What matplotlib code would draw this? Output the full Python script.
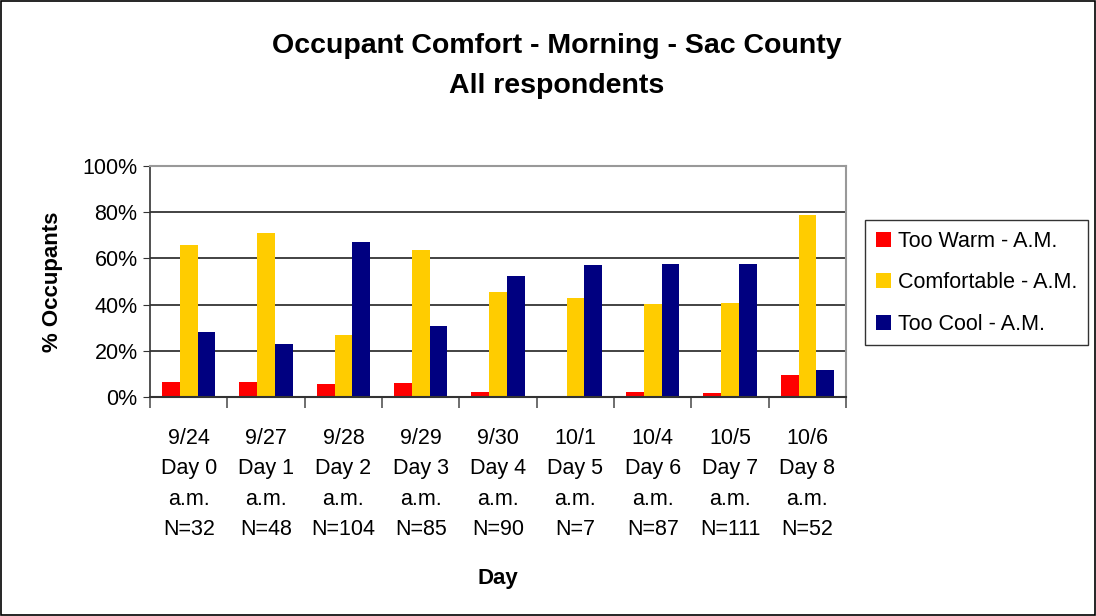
import numpy as np
import matplotlib.pyplot as plt
from matplotlib.patches import Rectangle

plt.rcParams['font.family'] = ['Liberation Sans', 'DejaVu Sans']

# Datos (% de ocupantes)
dates = ['9/24', '9/27', '9/28', '9/29', '9/30', '10/1', '10/4', '10/5', '10/6']
days = ['Day 0', 'Day 1', 'Day 2', 'Day 3', 'Day 4', 'Day 5', 'Day 6', 'Day 7', 'Day 8']
n_resp = [32, 48, 104, 85, 90, 7, 87, 111, 52]
too_warm = [6.3, 6.3, 5.8, 5.9, 2.2, 0.0, 2.3, 1.8, 9.6]
comfortable = [65.6, 70.8, 26.9, 63.5, 45.6, 42.9, 40.2, 40.5, 78.8]
too_cool = [28.1, 22.9, 67.3, 30.6, 52.2, 57.1, 57.5, 57.7, 11.5]

labels = [f"{d}\n{dy}\na.m.\nN={n}" for d, dy, n in zip(dates, days, n_resp)]

fig = plt.figure(figsize=(10.96, 6.16), dpi=100)
ax = fig.add_axes([0.1369, 0.3555, 0.6351, 0.375])

x = np.arange(len(dates))
w = 0.23
ax.bar(x - w, too_warm, w, color='#FF0000', label='Too Warm - A.M.')
ax.bar(x, comfortable, w, color='#FFCC00', label='Comfortable - A.M.')
ax.bar(x + w, too_cool, w, color='#000080', label='Too Cool - A.M.')

ax.set_xlim(-0.5, len(dates) - 0.5)
ax.set_ylim(0, 100)
ax.set_yticks(np.arange(0, 101, 20))
ax.set_yticklabels([f"{v}%" for v in range(0, 101, 20)], fontsize=15.5)
ax.yaxis.grid(True, color='#222222', linewidth=1.2)
ax.set_axisbelow(True)

# ticks entre categorias
ax.set_xticks(np.arange(-0.5, len(dates), 1))
ax.set_xticklabels([])
ax.set_xticks(x, minor=True)
ax.set_xticklabels(labels, minor=True, fontsize=15.5, linespacing=1.6)
ax.tick_params(axis='x', which='major', length=8, color='#555555', width=1.2)
ax.tick_params(axis='x', which='minor', length=0, pad=22)
ax.tick_params(axis='y', length=5, color='#333333', pad=4)

for side in ['top', 'right']:
    ax.spines[side].set_color('#999999')
    ax.spines[side].set_linewidth(1.5)
ax.spines['left'].set_color('#333333')
ax.spines['bottom'].set_color('#333333')
ax.spines['left'].set_linewidth(1.2)
ax.spines['bottom'].set_linewidth(1.5)

ax.set_ylabel('% Occupants', fontsize=16, fontweight='bold', labelpad=14)
ax.set_xlabel('Day', fontsize=16, fontweight='bold', labelpad=20)

fig.text(0.508, 0.925, 'Occupant Comfort - Morning - Sac County', ha='center', va='center',
         fontsize=20.5, fontweight='bold')
fig.text(0.508, 0.861, 'All respondents', ha='center', va='center',
         fontsize=20.5, fontweight='bold')

leg = fig.legend(loc='upper left', bbox_to_anchor=(0.789, 0.643), fontsize=15.5,
                 frameon=True, fancybox=False, edgecolor='black', handlelength=0.7,
                 handleheight=0.7, handletextpad=0.35, labelspacing=0.95, borderpad=0.5,
                 borderaxespad=0)
leg.get_frame().set_linewidth(1.0)

fig.patches.append(Rectangle((0.001, 0.002), 0.998, 0.996, transform=fig.transFigure,
                             fill=False, edgecolor='black', linewidth=1.2))

fig.savefig('out.png', dpi=100)
